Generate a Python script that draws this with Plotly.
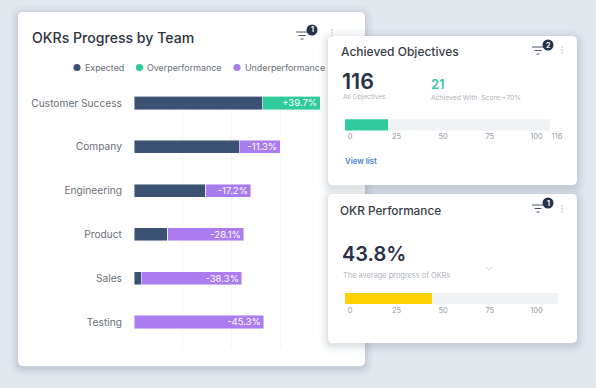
import plotly.graph_objects as go

W, H = 596, 388

# ---- data ----
teams = ["Customer Success", "Company", "Engineering", "Product", "Sales", "Testing"]
expected = [65.8, 53.6, 36.7, 17.3, 3.6, 0]
overperformance = [29.2, 0, 0, 0, 0, 0]
underperformance = [0, 21, 23, 38.8, 51.5, 66.3]
over_labels = ["+39.7%", "", "", "", "", ""]
under_labels = ["", "-11.3%", "-17.2%", "-28.1%", "-38.3%", "-45.3%"]

achieved_bar = [23]
achieved_rest = [87]
achieved_ticks = [0, 25, 50, 75, 100, 111]
achieved_ticktext = ["0", "25", "50", "75", "100", "116"]

performance_bar = [46.5]
performance_rest = [67.8]
performance_ticks = [0, 25, 50, 75, 100]
performance_ticktext = ["0", "25", "50", "75", "100"]

NAVY, GREEN, PURPLE, YELLOW = "#3c5273", "#2fcb9c", "#aa7cf0", "#fdd204"
TRACK = "#eff3f6"
FONT = "Inter"


def fx(px):
    return px / W


def fy(py):
    return 1 - py / H


def rrect_path(x0, y0, x1, y1, r):
    X0, X1 = fx(x0), fx(x1)
    Y0, Y1 = fy(y0), fy(y1)
    rx, ry = r / W, r / H
    return (f"M{X0+rx},{Y0} L{X1-rx},{Y0} Q{X1},{Y0} {X1},{Y0-ry} "
            f"L{X1},{Y1+ry} Q{X1},{Y1} {X1-rx},{Y1} L{X0+rx},{Y1} "
            f"Q{X0},{Y1} {X0},{Y1+ry} L{X0},{Y0-ry} Q{X0},{Y0} {X0+rx},{Y0} Z")


shapes = []
annots = []


def card(x0, y0, x1, y1):
    for spread, alpha in [(9, 0.018), (7, 0.022), (5, 0.03), (3, 0.04), (1.5, 0.05)]:
        shapes.append(dict(type="path", xref="paper", yref="paper", layer="below",
                           path=rrect_path(x0 - spread, y0 - spread + 2, x1 + spread, y1 + spread + 2, 6 + spread),
                           fillcolor=f"rgba(70,85,110,{alpha})", line_width=0))
    shapes.append(dict(type="path", xref="paper", yref="paper", layer="below",
                       path=rrect_path(x0, y0, x1, y1, 5), fillcolor="white", line_width=0))


def text(px, py, s, size, color, anchor="left", weight=400):
    annots.append(dict(xref="paper", yref="paper", x=fx(px - (2 if anchor == "left" else 0)), y=fy(py),
                       text=s, showarrow=False,
                       xanchor=anchor, yanchor="middle", align=anchor,
                       font=dict(family=FONT, size=size, color=color, weight=weight)))


def dot(cx, cy, r, color):
    shapes.append(dict(type="circle", xref="paper", yref="paper", layer="below",
                       x0=fx(cx - r), x1=fx(cx + r), y0=fy(cy + r), y1=fy(cy - r),
                       fillcolor=color, line_width=0))


def hline(x0, x1, y, color="#4a5568", w=1):
    shapes.append(dict(type="line", xref="paper", yref="paper", layer="below",
                       x0=fx(x0), x1=fx(x1), y0=fy(y), y1=fy(y),
                       line=dict(color=color, width=w)))


def filter_icon(x, y, n):
    hline(x - 1, x + 11, y - 3)
    hline(x + 1.5, x + 8.5, y + 0.5)
    hline(x + 3.5, x + 6.5, y + 4)
    dot(x + 15, y - 5, 5.5, "#263248")
    text(x + 15, y - 5, n, 7, "white", "center", 700)


def menu(x, y):
    for d in (-3, 0, 3):
        dot(x, y + d, 0.8, "#b4bac3")


card(18, 12, 365, 366)
card(328, 36, 577, 185)
card(328, 194, 577, 343)

text(32, 37, "OKRs Progress by Team", 14.1, "#2d3340", weight=500)
filter_icon(297, 35, "1")
menu(332, 33)

for cx, lx, lab, col in [(77, 85, "Expected", NAVY), (139.5, 147, "Overperformance", GREEN),
                         (237, 245, "Underperformance", PURPLE)]:
    dot(cx, 67.5, 3.6, col)
    text(lx, 67.5, lab, 8.9, "#6c7078")

text(341, 52, "Achieved Objectives", 12, "#383c46", weight=500)
filter_icon(533, 50, "2")
menu(562, 50)
text(342, 81, "116", 21.5, "#2a3147", weight=600)
text(431, 84, "21", 13, GREEN, weight=600)
text(343, 97, "All Objectives", 6.6, "#aeb2b9")
text(431, 97, "Achieved With  Score +70%", 6.8, "#aeb2b9")
text(345, 161, "View list", 7.8, "#4a84cc", weight=600)

text(340, 211, "OKR Performance", 11.8, "#383c46", weight=500)
filter_icon(533, 208, "1")
menu(562, 209)
text(342, 254, "43.8%", 20, "#2a3147", weight=600)
text(343, 275, "The average progress of OKRs", 7.4, "#aeb2b9")
shapes.append(dict(type="path", xref="paper", yref="paper", layer="below",
                   path=f"M{fx(486)},{fy(267)} L{fx(489)},{fy(270)} L{fx(492)},{fy(267)}",
                   line=dict(color="#d3d8de", width=1)))

fig = go.Figure()


def stack(name, values, color, labels=None):
    fig.add_trace(go.Bar(
        y=teams, x=values, name=name, orientation="h", width=0.3,
        marker=dict(color=color, line=dict(color="rgba(255,255,255,0.75)", width=0.6)),
        text=labels, textposition="inside", insidetextanchor="end", constraintext="none",
        textangle=0, textfont=dict(family=FONT, size=9.5, color="white"),
        showlegend=False, xaxis="x", yaxis="y"))


stack("Expected", expected, NAVY)
stack("Overperformance", overperformance, GREEN, over_labels)
stack("Underperformance", underperformance, PURPLE, under_labels)

for name, vals, col, xa, ya in [
    ("Achieved", achieved_bar, GREEN, "x2", "y2"),
    ("Remaining", achieved_rest, TRACK, "x2", "y2"),
    ("Average progress", performance_bar, YELLOW, "x3", "y3"),
    ("Remaining", performance_rest, TRACK, "x3", "y3"),
]:
    fig.add_trace(go.Bar(y=["a"], x=vals, name=name, orientation="h", width=1,
                         marker=dict(color=col, line_width=0), showlegend=False,
                         xaxis=xa, yaxis=ya))

U = 1.864  # px per unit on the two small cards


def small_x(px0, y_anchor, ticks, labels, maxv):
    return dict(domain=[fx(px0), fx(px0 + maxv * U)], range=[0, maxv], anchor=y_anchor,
                tickmode="array", tickvals=ticks, ticktext=labels, showgrid=False, zeroline=False,
                showline=False, ticks="", ticklabelshift=5,
                tickfont=dict(family=FONT, size=7.5, color="#989da5"))


def small_y(p0, p1):
    return dict(domain=[fy(p1), fy(p0)], range=[-0.5, 0.5], showticklabels=False, showgrid=False,
                zeroline=False, showline=False, ticks="")


fig.update_layout(
    width=W, height=H, autosize=False, margin=dict(l=0, r=0, t=0, b=0),
    paper_bgcolor="#e3e8ef", plot_bgcolor="rgba(0,0,0,0)", barmode="stack",
    font=dict(family=FONT), shapes=shapes, annotations=annots, hovermode=False,
    xaxis=dict(domain=[fx(134), fx(328)], range=[0, 99], anchor="y", showticklabels=False,
               tick0=0, dtick=25, showgrid=True, gridcolor="#f6f7f9", gridwidth=1, zeroline=False,
               showline=False, ticks=""),
    yaxis=dict(domain=[fy(348), fy(96.5)], range=[5.594, -0.148], anchor="x", type="category",
               categoryorder="array", categoryarray=teams, showgrid=False, zeroline=False,
               showline=False, ticks="outside", ticklen=9, tickcolor="rgba(0,0,0,0)",
               tickfont=dict(family=FONT, size=10.2, color="#6b6f77")),
    xaxis2=small_x(345, "y2", achieved_ticks, achieved_ticktext, 116),
    yaxis2=small_y(119.3, 130.5) | dict(anchor="x2"),
    xaxis3=small_x(345, "y3", performance_ticks, performance_ticktext, 116),
    yaxis3=small_y(293, 304) | dict(anchor="x3"),
)

fig.write_html("out.html", config=dict(displayModeBar=False),
               post_script="document.body.style.margin='0';document.body.style.overflow='hidden';")
